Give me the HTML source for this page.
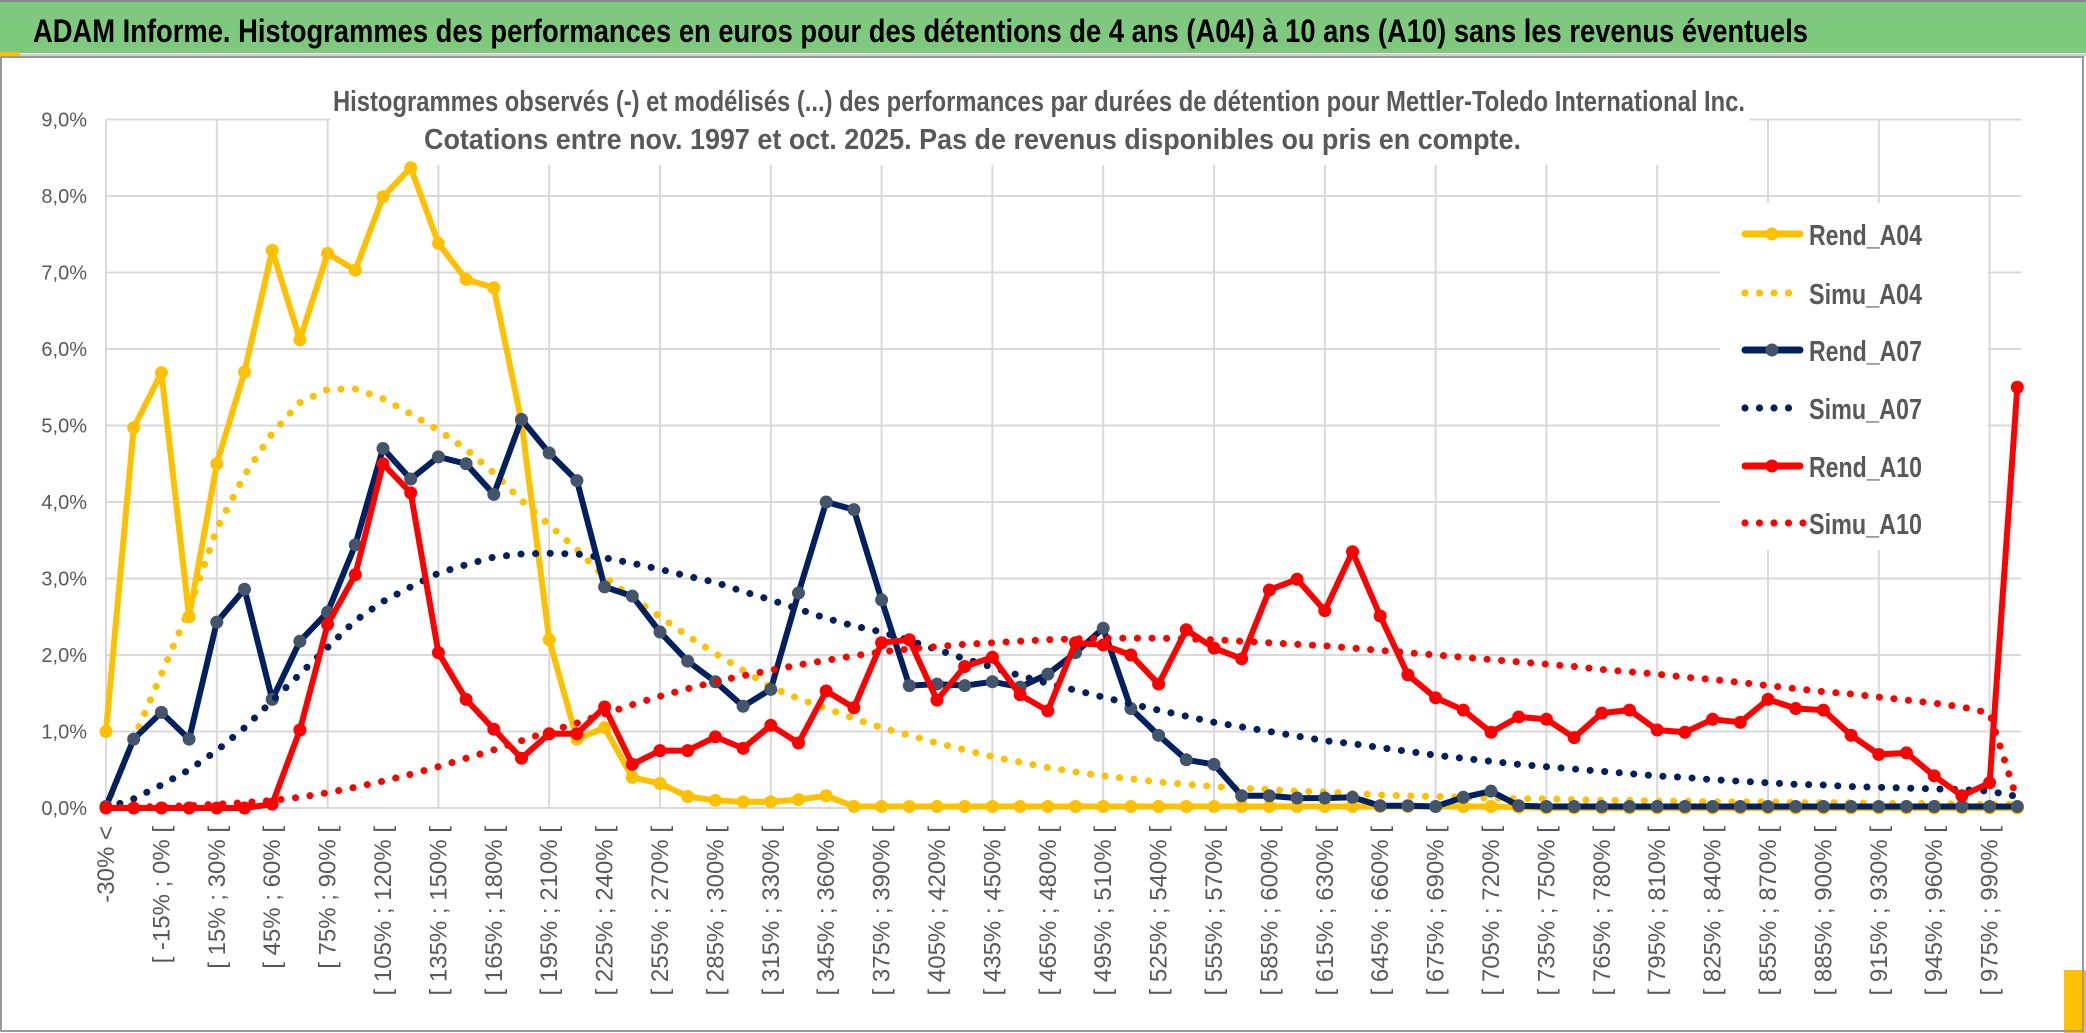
<!DOCTYPE html>
<html><head><meta charset="utf-8"><style>
html,body{margin:0;padding:0;background:#fff;}
svg{display:block;font-family:"Liberation Sans",sans-serif;}
</style></head><body>
<svg id="chart" width="2086" height="1033" viewBox="0 0 2086 1033" xmlns="http://www.w3.org/2000/svg">
<rect x="0" y="0" width="2086" height="1033" fill="#fff"/>
<rect x="0" y="2" width="2086" height="51" fill="#7fc97f"/>
<line x1="0" y1="1" x2="2086" y2="1" stroke="#888" stroke-width="2"/>
<line x1="0" y1="55" x2="2086" y2="55" stroke="#d0d0d0" stroke-width="3"/>
<rect x="0" y="52" width="20" height="4" fill="#ffc000"/>
<text x="33" y="42" font-size="32" font-weight="bold" fill="#000" textLength="1775" lengthAdjust="spacingAndGlyphs">ADAM Informe. Histogrammes des performances en euros pour des détentions de 4 ans (A04) à 10 ans (A10) sans les revenus éventuels</text>
<rect x="2064" y="970" width="22" height="63" fill="#ffc000"/>
<rect x="1" y="57" width="2082" height="974" fill="none" stroke="#9a9a9a" stroke-width="2"/>
<g id="grid"></g>
<rect x="330" y="60" width="1420" height="105" fill="#fff"/>
<text x="333" y="111" font-size="29" font-weight="bold" fill="#595959" textLength="1412" lengthAdjust="spacingAndGlyphs">Histogrammes observés (-) et modélisés (...) des performances par durées de détention pour Mettler-Toledo International Inc.</text>
<text x="424" y="149" font-size="29" font-weight="bold" fill="#595959" textLength="1097" lengthAdjust="spacingAndGlyphs">Cotations entre nov. 1997 et oct. 2025. Pas de revenus disponibles ou pris en compte.</text>
<rect x="1720" y="203" width="268" height="347" fill="#fff"/>
<g id="yticks"></g>
<g id="xticks"></g>
<g id="series"></g>
<g id="legend"></g>
</svg>
<script>
const categories = [];
categories.push("-30% <");
for (let k = 1; k < 70; k++) { categories.push("[ " + (-45 + 15 * k) + "% ; " + (-30 + 15 * k) + "% ["); }
const yTicks = [0,1,2,3,4,5,6,7,8,9];
const yTickLabels = ["0,0%","1,0%","2,0%","3,0%","4,0%","5,0%","6,0%","7,0%","8,0%","9,0%"];
const seriesNames = ["Rend_A04","Simu_A04","Rend_A07","Simu_A07","Rend_A10","Simu_A10"];
const rendA04 = [1.0,4.97,5.69,2.5,4.5,5.7,7.29,6.12,7.25,7.03,7.99,8.37,7.38,6.91,6.8,5.05,2.2,0.9,1.05,0.4,0.32,0.15,0.1,0.08,0.08,0.11,0.16,0.02,0.02,0.02,0.02,0.02,0.02,0.02,0.02,0.02,0.02,0.02,0.02,0.02,0.02,0.02,0.02,0.02,0.02,0.02,0.02,0.02,0.02,0.02,0.02,0.01,0,0,0,0,0,0,0,0,0,0,0,0,0,0,0,0,0,0];
const simuA04 = [0,0.9,1.75,2.6,3.65,4.35,4.9,5.3,5.47,5.48,5.35,5.15,4.94,4.69,4.38,4.02,3.7,3.38,3.02,2.75,2.5,2.25,2.02,1.8,1.58,1.43,1.3,1.17,1.05,0.95,0.85,0.76,0.67,0.6,0.53,0.47,0.42,0.38,0.34,0.31,0.28,0.26,0.24,0.22,0.21,0.19,0.17,0.16,0.15,0.14,0.13,0.12,0.12,0.11,0.1,0.1,0.09,0.09,0.08,0.08,0.08,0.07,0.07,0.07,0.06,0.06,0.06,0.05,0.05,0.05];
const rendA07 = [0.02,0.9,1.25,0.9,2.43,2.86,1.42,2.18,2.56,3.44,4.7,4.3,4.59,4.5,4.1,5.08,4.64,4.28,2.89,2.77,2.3,1.92,1.65,1.33,1.55,2.81,4.0,3.9,2.72,1.6,1.62,1.6,1.65,1.58,1.75,2.03,2.35,1.3,0.95,0.63,0.57,0.16,0.16,0.13,0.13,0.14,0.03,0.03,0.02,0.14,0.22,0.03,0.02,0.02,0.02,0.02,0.02,0.02,0.02,0.02,0.02,0.02,0.02,0.02,0.02,0.02,0.02,0.02,0.02,0.02];
const simuA07 = [0,0.12,0.3,0.5,0.75,1.05,1.4,1.75,2.1,2.45,2.7,2.89,3.07,3.18,3.28,3.32,3.33,3.32,3.27,3.2,3.12,3.03,2.95,2.83,2.72,2.6,2.48,2.38,2.3,2.19,2.07,1.95,1.84,1.73,1.63,1.54,1.45,1.36,1.28,1.2,1.12,1.06,1.0,0.94,0.88,0.84,0.79,0.74,0.69,0.65,0.61,0.57,0.54,0.51,0.48,0.45,0.42,0.4,0.37,0.35,0.33,0.31,0.3,0.28,0.27,0.26,0.25,0.24,0.22,0.15];
const rendA10 = [0,0,0,0,0,0,0.05,1.02,2.4,3.05,4.5,4.12,2.03,1.42,1.03,0.65,0.97,0.97,1.32,0.57,0.75,0.75,0.93,0.78,1.08,0.85,1.53,1.31,2.16,2.2,1.41,1.85,1.97,1.48,1.27,2.16,2.13,2.0,1.62,2.33,2.09,1.95,2.85,2.99,2.58,3.35,2.51,1.74,1.44,1.28,0.99,1.19,1.16,0.92,1.24,1.28,1.02,0.99,1.16,1.12,1.42,1.3,1.28,0.95,0.7,0.72,0.42,0.16,0.33,5.5];
const simuA10 = [0,0.01,0.02,0.03,0.05,0.07,0.1,0.14,0.2,0.27,0.35,0.44,0.54,0.65,0.76,0.88,1.0,1.11,1.23,1.35,1.46,1.56,1.65,1.73,1.8,1.87,1.93,1.99,2.04,2.08,2.11,2.14,2.16,2.18,2.2,2.21,2.22,2.22,2.22,2.21,2.2,2.18,2.16,2.14,2.12,2.09,2.06,2.03,2.0,1.97,1.94,1.91,1.88,1.85,1.81,1.78,1.75,1.71,1.68,1.64,1.6,1.56,1.52,1.49,1.45,1.41,1.37,1.32,1.24,0.1];

const NS = "http://www.w3.org/2000/svg";
const X0 = 106, DX = 27.7, Y0 = 808, DY = 76.5;
function xPos(i){ return X0 + i * DX; }
function yPos(v){ return Y0 - v * DY; }
function mk(tag, attrs, parent){ const e = document.createElementNS(NS, tag); for (const k in attrs) e.setAttribute(k, attrs[k]); parent.appendChild(e); return e; }

const grid = document.getElementById("grid");
yTicks.forEach(function(t){
  const l = mk("line", {x1: X0, x2: xPos(69) + 4, y1: yPos(t), y2: yPos(t), stroke: "#d9d9d9", "stroke-width": 2}, grid);
  
  
});
for (let i = 0; i < categories.length; i += 4) {
  const l = mk("line", {x1: xPos(i), x2: xPos(i), y1: yPos(9), y2: Y0, stroke: "#d9d9d9", "stroke-width": 2}, grid);
  
  
}
const yt = document.getElementById("yticks");
yTicks.forEach(function(t, k){
  const tx = mk("text", {x: 87, y: yPos(t) + 7, "font-size": 20, fill: "#595959", "text-anchor": "end"}, yt);
  tx.textContent = yTickLabels[k];
  
  
});
const xt = document.getElementById("xticks");
for (let i = 0; i < categories.length; i += 2) {
  const x = xPos(i) + 8, y = 826;
  const tx = mk("text", {x: x, y: y, "font-size": 24, fill: "#595959", "text-anchor": "end", transform: "rotate(-90 " + x + " " + y + ")"}, xt);
  tx.textContent = categories[i];
  
  
}

const sg = document.getElementById("series");
function drawRend(vals, color, markerColor, name){
  const g = mk("g", {}, sg);
  
  
  const pts = vals.map(function(v, i){ return xPos(i).toFixed(1) + "," + yPos(v).toFixed(1); }).join(" ");
  const pl = mk("polyline", {points: pts, fill: "none", stroke: color, "stroke-width": 6, "stroke-linejoin": "round"}, g);
  
  
  vals.forEach(function(v, i){
    const c = mk("circle", {cx: xPos(i), cy: yPos(v), r: 6.5, fill: markerColor}, g);
    
    
  });
}
function drawSimu(vals, color, name){
  const pts = vals.map(function(v, i){ return xPos(i).toFixed(1) + "," + yPos(v).toFixed(1); }).join(" ");
  const pl = mk("polyline", {points: pts, fill: "none", stroke: color, "stroke-width": 7, "stroke-linecap": "round", "stroke-dasharray": "0.1 14.5"}, sg);
  
  
}
drawRend(rendA04, "#ffc000", "#ffc000", "rend-a04-series");
drawSimu(simuA04, "#ffc000", "simu-a04-series");
drawRend(rendA07, "#002060", "#44546a", "rend-a07-series");
drawSimu(simuA07, "#002060", "simu-a07-series");
drawRend(rendA10, "#ff0000", "#ff0000", "rend-a10-series");
drawSimu(simuA10, "#ff0000", "simu-a10-series");

const lg = document.getElementById("legend");
const legColors = ["#ffc000","#ffc000","#002060","#002060","#ff0000","#ff0000"];
const legMarker = ["#ffc000",null,"#44546a",null,"#ff0000",null];
const legY = [234,293,350,408,466,523];
seriesNames.forEach(function(n, k){
  const g = mk("g", {}, lg);
  
  
  const y = legY[k];
  if (legMarker[k]) {
    mk("line", {x1: 1745, x2: 1800, y1: y, y2: y, stroke: legColors[k], "stroke-width": 7, "stroke-linecap": "round"}, g);
    mk("circle", {cx: 1772, cy: y, r: 6.5, fill: legMarker[k]}, g);
  } else {
    const n2 = (k === 5) ? 5 : 4;
    for (let d = 0; d < n2; d++) mk("circle", {cx: 1745 + d * 14.5, cy: y, r: 3.6, fill: legColors[k]}, g);
  }
  const t = mk("text", {x: 1809, y: y + 11, "font-size": 29, "font-weight": "bold", fill: "#595959", textLength: 113, lengthAdjust: "spacingAndGlyphs"}, g);
  t.textContent = n;
});
</script>
</body></html>
